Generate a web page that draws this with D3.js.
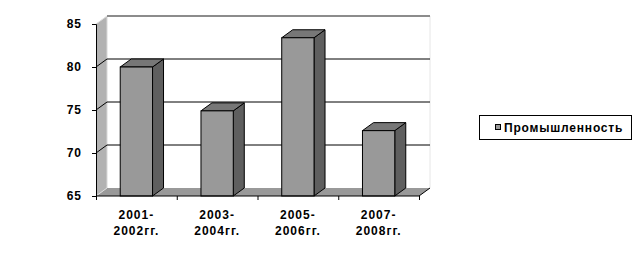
<!DOCTYPE html>
<html><head><meta charset="utf-8">
<script src="https://cdn.jsdelivr.net/npm/d3@7"></script>
<style>body{margin:0;background:#fff}svg{display:block}</style>
</head><body>
<svg id="c" width="636" height="266"></svg>
<script>
const categories = [["2001-","2002гг."],["2003-","2004гг."],["2005-","2006гг."],["2007-","2008гг."]];
const values = [80.0, 74.9, 83.4, 72.6];
const yTicks = [65, 70, 75, 80, 85];
const seriesName = "Промышленность";

const svg = d3.select("#c");
const font = "Liberation Sans, Arial, sans-serif";
const DX = 11, DY = -8;
const y = d3.scaleLinear().domain([65, 85]).range([196, 24]);
const x = d3.scaleBand().domain(d3.range(categories.length)).range([96, 419]).padding(0);
const x0 = 96, x1 = 419, yb = y(65), yt = y(85);

// back wall
svg.append("rect").attr("x", x0 + DX).attr("y", yt + DY).attr("width", x1 - x0).attr("height", yb - yt)
  .attr("fill", "#fff");
svg.append("line").attr("x1", x1 + DX).attr("x2", x1 + DX).attr("y1", yt + DY).attr("y2", yb + DY)
  .attr("stroke", "#e6e6e6");
// left wall
svg.append("path").attr("d", `M${x0},${yb}L${x0},${yt}L${x0+DX},${yt+DY}L${x0+DX},${yb+DY}Z`).attr("fill", "#b2b2b2");
svg.append("line").attr("x1", x0+DX).attr("x2", x0+DX).attr("y1", yt+DY).attr("y2", yb+DY).attr("stroke", "#d8d8d8");
// floor
svg.append("path").attr("d", `M${x0},${yb}L${x1},${yb}L${x1+DX},${yb+DY}L${x0+DX},${yb+DY}Z`).attr("fill", "#999");

// gridlines
yTicks.forEach(t => {
  if (t === 65) return;
  const col = t === 85 ? "#8c8c8c" : "#000";
  svg.append("line").attr("x1", x0 + DX).attr("x2", x1 + DX).attr("y1", y(t) + DY).attr("y2", y(t) + DY)
    .attr("stroke", col).attr("stroke-width", t === 85 ? 2 : 1);
  svg.append("line").attr("x1", x0).attr("x2", x0 + DX).attr("y1", y(t)).attr("y2", y(t) + DY)
    .attr("stroke", t === 85 ? "#ddd" : "#000");
});
svg.append("line").attr("x1", x0).attr("x2", x0 + DX).attr("y1", yb).attr("y2", yb + DY).attr("stroke", "#ddd");
svg.append("line").attr("x1", x1).attr("x2", x1 + DX).attr("y1", yb).attr("y2", yb + DY).attr("stroke", "#000");

// bars
const bw = x.bandwidth() * 0.4;
const g = svg.append("g").attr("stroke", "#000").attr("stroke-width", 1);
values.forEach((v, i) => {
  const cx = x(i) + x.bandwidth() / 2;
  const l = cx - bw / 2, r = cx + bw / 2, top = y(v);
  g.append("path").attr("d", `M${r},${yb}L${r},${top}L${r+DX},${top+DY}L${r+DX},${yb+DY}Z`).attr("fill", "#5f5f5f");
  g.append("path").attr("d", `M${l},${top}L${l+DX},${top+DY}L${r+DX},${top+DY}L${r},${top}Z`).attr("fill", "#777");
  g.append("rect").attr("x", l).attr("y", top).attr("width", bw).attr("height", yb - top).attr("fill", "#999");
});

// axes
const yAxis = d3.axisLeft(y).tickValues(yTicks).tickSize(4).tickPadding(10);
const ya = svg.append("g").attr("transform", `translate(${x0},0)`).call(yAxis);
ya.select(".domain").attr("stroke", "#000");
ya.selectAll("text").attr("font-family", font).attr("font-size", 12).attr("font-weight", "bold")
  .attr("letter-spacing", 1).attr("fill", "#000");

const xb = d3.scaleLinear().domain([0, categories.length]).range([x0, x1]);
const xa = svg.append("g").attr("transform", `translate(0,${yb})`)
  .call(d3.axisBottom(xb).tickValues(d3.range(categories.length + 1)).tickSize(4).tickFormat(""));
xa.select(".domain").attr("stroke", "#000").attr("d", `M${x0},0H${x1}`);

categories.forEach((c, i) => {
  const cx = x(i) + x.bandwidth() / 2;
  const t = svg.append("text").attr("text-anchor", "middle").attr("font-family", font)
    .attr("font-size", 12).attr("font-weight", "bold").attr("letter-spacing", 1);
  c.forEach((line, k) => t.append("tspan").attr("x", cx).attr("y", 218.5 + k * 16).text(line));
});

// legend
svg.append("rect").attr("x", 479.5).attr("y", 115.5).attr("width", 152).attr("height", 24)
  .attr("fill", "#fff").attr("stroke", "#000");
svg.append("rect").attr("x", 495.5).attr("y", 124.5).attr("width", 5).attr("height", 5)
  .attr("fill", "#999").attr("stroke", "#000");
svg.append("text").attr("x", 504).attr("y", 131.5).attr("font-family", font).attr("font-size", 12)
  .attr("font-weight", "bold").attr("letter-spacing", 0.8).text(seriesName);
</script>
</body></html>
